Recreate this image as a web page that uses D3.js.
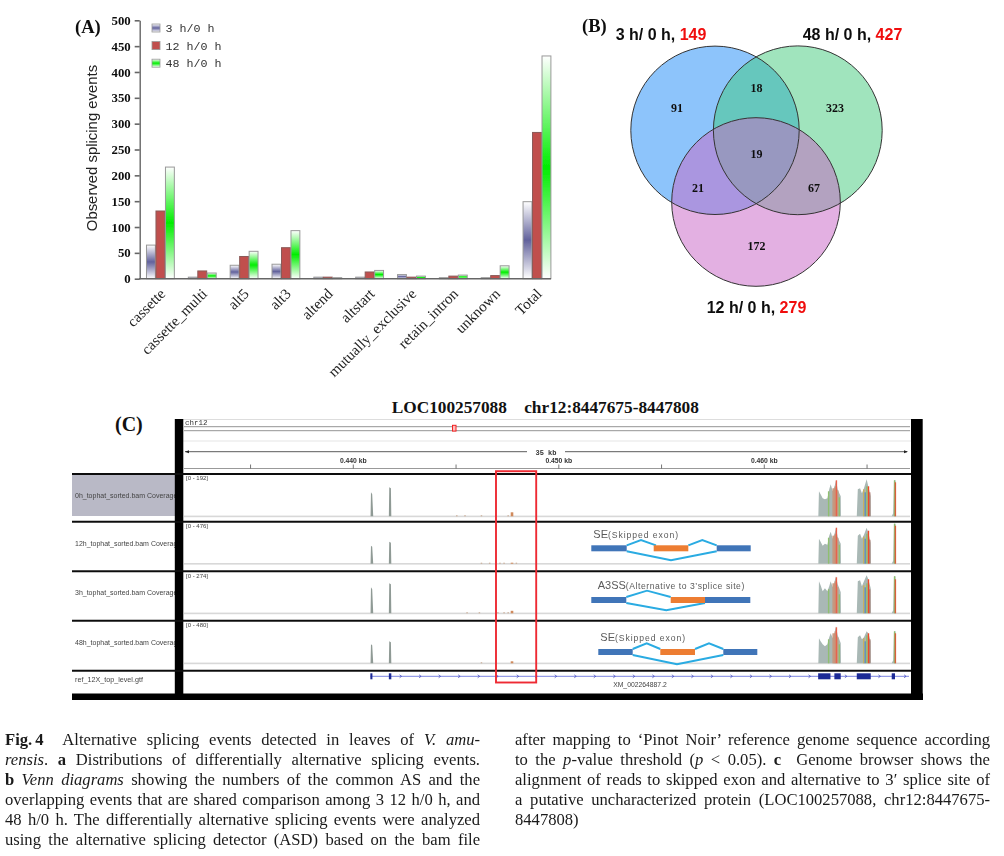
<!DOCTYPE html>
<html><head><meta charset="utf-8">
<script src="https://cdn.jsdelivr.net/npm/d3@7"></script>
<style>
html,body{margin:0;padding:0;background:#fff}
svg{display:block}
</style></head><body>
<svg id="fig" width="1004" height="856"></svg>
<script>
// ---------- Panel A data ----------
const categories = ["cassette","cassette_multi","alt5","alt3","altend","altstart","mutually_exclusive","retain_intron","unknown","Total"];
const series3h  = [65,3,26,28,3,3,8,2,2,149];
const series12h = [131,15,43,60,3,13,3,5,6,283];
const series48h = [216,11,53,93,2,16,5,7,25,431];
const legendLabels = ["3 h/0 h","12 h/0 h","48 h/0 h"];
const yTicks = [0,50,100,150,200,250,300,350,400,450,500];
// ---------- Panel B data ----------
const vennNames = ["3 h/ 0 h, ","48 h/ 0 h, ","12 h/ 0 h, "];
const vennTotals = [149,427,279];
const vennCounts = [91,18,323,19,21,67,172];
// ---------- Panel C data ----------
const trackNames = ["0h_tophat_sorted.bam Coverage","12h_tophat_sorted.bam Coverage","3h_tophat_sorted.bam Coverage","48h_tophat_sorted.bam Coverage"];
const trackRanges = ["[0 - 192]","[0 - 476]","[0 - 274]","[0 - 480]"];
const rulerKb = [435,440,445,450,455,460,465];
const rulerLabels = ["0.440 kb","0.450 kb","0.460 kb"];
const peakKb = [440.84,440.86,440.92,440.97,441.73,441.75,441.83,441.85];
const peakDepth = [[0,24,22,0,0,29,28,0],[0,18,17,0,0,22,21,0],[0,26,24,0,0,30,29,0],[0,19,18,0,0,22,21,0]];
const clusterKb = [462.63,462.66,462.74,462.84,462.95,463.07,463.16,463.23,463.33,463.42,463.49,463.57,463.65,463.72,463.73,
                   464.50,464.55,464.66,464.75,464.85,464.98,465.06,465.18,465.19,
                   466.20,466.27,466.31,466.38,466.41];
const clusterDepth = [
 [0,25,22,18,17,18,27,32,25,30,36,27,23,20,0, 0,27,28,23,28,37,30,20,0, 0,3,36,36,2],
 [0,25,22,18,20,19,28,32,25,30,36,27,23,20,0, 0,28,30,25,29,36,31,21,0, 0,3,40,40,3],
 [0,32,28,22,25,22,27,32,26,32,37,29,25,21,0, 0,32,33,27,32,38,34,25,0, 0,3,37,37,3],
 [0,25,22,19,17,19,26,30,25,31,37,28,24,20,0, 0,26,28,24,26,32,30,22,0, 0,3,32,32,3]];
const alleleKb   = [463.12,463.34,463.40,463.45,463.50,463.56,463.64, 464.83,464.90,464.98,465.06,465.12, 466.33,466.37];
const alleleCol  = ["#8fbf70","#c8967a","#c8967a","#c8967a","#e8604c","#c8967a","#8fbf70","#c9b060","#5f8fb8","#8fbf70","#ef4a28","#b07a70","#8fbf70","#d8603c"];
const alleleDepth = [
 [25,28,28,30,36,26,19, 27,24,30,30,24, 36,34],
 [26,28,28,30,36,26,19, 27,25,30,33,24, 40,38],
 [24,30,30,32,36,26,19, 28,26,30,34,24, 37,34],
 [24,30,30,32,36,26,19, 25,22,28,30,24, 32,30]];
const boxedExonDepth = [4,1,2.5,2];
const boxedExonKb = 447.66;
const minorKb = [[445,445.4,446.2,446.9,447.5],[446.2,446.6,447.1,447.3,447.9],[445.5,446.1,447,447.3,447.5],[446.2]];
const geneExons = [[440.83,440.93],[441.73,441.85],[462.62,463.22],[463.41,463.72],[464.50,465.18],[466.2,466.36]];
const geneArrowKb = [442.3,443.25,444.2,445.15,446.1,447.0,448.0,448.9,449.85,450.8,451.75,452.7,453.65,454.6,455.55,456.5,457.45,458.4,459.35,460.3,461.25,462.2,463.97,465.6,466.85];
const schemes = [
 {big:"SE",small:"(Skipped exon)"},
 {big:"A3SS",small:"(Alternative to 3’splice site)"},
 {big:"SE",small:"(Skipped exon)"}];
const schemeSpacing=[.95,.55,.95];
const schemeLeft = [[0,35.4],[0,35],[0,34.4]];
const schemeMid  = [[62.4,97],[79.4,113.7],[62,96.7]];
const schemeRight= [[125.4,159.4],[113.7,159],[125,159]];
// connector vertices in panel-relative units [x, rise]
const schemeLinks = [
 [[[35.4,0],[49.7,5.3],[64.7,0]],[[97,0],[111,5.3],[125.4,0]]],
 [[[35,0],[55.7,6.3],[79.4,0]]],
 [[[34.4,0],[48.4,5.7],[62,0]],[[96.7,0],[110.7,5.7],[125,0]]]];
const schemeSkips = [[[35.4,0],[79.7,9],[125.4,0]],[[35,0],[75,7.3],[113.7,0]],[[34.4,0],[78.7,9.3],[125,0]]];

const svg = d3.select("#fig");
const defs = svg.append("defs");
const SERIF = "'Liberation Serif',serif", SANS = "'Liberation Sans',sans-serif", MONO="'Liberation Mono',monospace";
function blur(id,s){defs.append("filter").attr("id",id).attr("x","-5%").attr("y","-5%").attr("width","110%").attr("height","110%")
  .append("feGaussianBlur").attr("stdDeviation",s);}
blur("soft",0.35); blur("softer",0.5);
function grad(id,c){const g=defs.append("linearGradient").attr("id",id).attr("x1",0).attr("x2",0).attr("y1",0).attr("y2",1);
  [[0,"#fff"],[.5,c],[1,"#fff"]].forEach(s=>g.append("stop").attr("offset",s[0]).attr("stop-color",s[1]));}
grad("g3","#62629c"); grad("g48","#00ee00");
const fills=["url(#g3)","#c0504d","url(#g48)"];

// ========== Panel A ==========
const A = svg.append("g").attr("filter","url(#soft)");
const y = d3.scaleLinear().domain([0,500]).range([278.7,20.3]);
const x = d3.scaleBand().domain(categories).range([139.3,557.7]).paddingInner(.32).paddingOuter(.16);
const sub = d3.scaleBand().domain([0,1,2]).range([0,x.bandwidth()]);
const allSeries=[series3h,series12h,series48h];
allSeries.forEach((vals,i)=>{
  A.append("g").selectAll("rect").data(vals).join("rect")
   .attr("x",(d,j)=>x(categories[j])+sub(i)+.5).attr("y",d=>y(d))
   .attr("width",sub.bandwidth()-.6).attr("height",d=>y(0)-y(d))
   .attr("fill",fills[i]).attr("stroke",i==1?"#8a5a58":"#999").attr("stroke-width",1);
});
const yAxis=A.append("g").attr("transform","translate(139.7,0)").call(d3.axisLeft(y).tickValues(yTicks).tickSize(5).tickSizeOuter(0));
yAxis.selectAll("path,line").attr("stroke","#666").attr("stroke-width",1.6);
yAxis.selectAll("text").attr("font-family",SERIF).attr("font-weight","bold").attr("font-size",12.8).attr("fill","#111").attr("dx",-1);
yAxis.select(".domain").attr("stroke-width",1.4);
A.append("line").attr("x1",139).attr("x2",x("Total")+x.bandwidth()).attr("y1",y(0)).attr("y2",y(0)).attr("stroke","#666").attr("stroke-width",1.5);
A.append("g").selectAll("text").data(categories).join("text")
 .attr("transform",d=>`translate(${x(d)+x.bandwidth()/2+6},${y(0)+16}) rotate(-45)`)
 .attr("text-anchor","end").attr("font-family",SERIF).attr("font-size",15).attr("fill","#222").text(d=>d);
A.append("text").attr("transform","translate(96.5,148) rotate(-90)").attr("text-anchor","middle")
 .attr("font-family",SANS).attr("font-size",14.9).attr("fill","#222").text("Observed splicing events");
legendLabels.forEach((l,i)=>{
  const ly=28+i*17.6;
  A.append("rect").attr("x",152).attr("y",ly-4).attr("width",8).attr("height",8).attr("fill",fills[i]).attr("stroke","#999").attr("stroke-width",.8);
  A.append("text").attr("x",165.5).attr("y",ly+4).attr("font-family",MONO).attr("font-size",11.7).attr("fill","#333").text(l);
});
A.append("text").attr("x",75).attr("y",33).attr("font-family",SERIF).attr("font-weight","bold").attr("font-size",18.5).attr("fill","#111").text("(A)");

// ========== Panel B ==========
const B = svg.append("g").attr("filter","url(#soft)");
const circles=[{cx:715,cy:130.3,r:84.2,c:"#8dc4fb"},{cx:797.8,cy:130.3,r:84.4,c:"#a0e4bd"},{cx:756,cy:202,r:84.3,c:"#e3b0e2"}];
circles.forEach((c,i)=>{
  defs.append("clipPath").attr("id","vc"+i).append("circle").attr("cx",c.cx).attr("cy",c.cy).attr("r",c.r);
});
defs.append("clipPath").attr("id","vc01").attr("clip-path","url(#vc0)").append("circle").attr("cx",circles[1].cx).attr("cy",circles[1].cy).attr("r",circles[1].r);
B.selectAll("circle.base").data(circles).join("circle").attr("class","base").attr("cx",d=>d.cx).attr("cy",d=>d.cy).attr("r",d=>d.r).attr("fill",d=>d.c);
function lens(target,clip,col,g=B){g.append("circle").attr("cx",circles[target].cx).attr("cy",circles[target].cy).attr("r",circles[target].r).attr("fill",col).attr("clip-path",`url(#${clip})`);}
lens(1,"vc0","#66c7bd");
lens(2,"vc0","#aa96e0");
lens(2,"vc1","#b3a2c0");
lens(2,"vc01","#9898c0");
B.selectAll("circle.edge").data(circles).join("circle").attr("class","edge").attr("cx",d=>d.cx).attr("cy",d=>d.cy).attr("r",d=>d.r).attr("fill","none").attr("stroke","#333").attr("stroke-width",1);
const vennPos=[[677,108],[756.5,88],[835,108],[756.5,154],[698,188],[814,188],[756.5,246]];
B.selectAll("text.cnt").data(vennCounts).join("text").attr("class","cnt")
 .attr("x",(d,i)=>vennPos[i][0]).attr("y",(d,i)=>vennPos[i][1]+4).attr("text-anchor","middle")
 .attr("font-family",SERIF).attr("font-weight","bold").attr("font-size",12).attr("fill","#111").text(d=>d);
const vennTitlePos=[[615.7,39.5],[802.7,39.5],[706.7,312.7]];
vennNames.forEach((n,i)=>{
  const t=B.append("text").attr("x",vennTitlePos[i][0]).attr("y",vennTitlePos[i][1]).attr("font-family",SANS).attr("font-weight","bold").attr("font-size",16).attr("fill","#111");
  t.append("tspan").text(n);
  t.append("tspan").attr("fill","#f01010").text(vennTotals[i]);
});
B.append("text").attr("x",582).attr("y",32).attr("font-family",SERIF).attr("font-weight","bold").attr("font-size",18.5).attr("fill","#111").text("(B)");

// ========== Panel C ==========
svg.append("text").attr("x",391.7).attr("y",412.5).attr("font-family",SERIF).attr("font-weight","bold").attr("font-size",17.3).attr("fill","#111").style("white-space","pre").text("LOC100257088    chr12:8447675-8447808");
svg.append("text").attr("x",115).attr("y",430.5).attr("font-family",SERIF).attr("font-weight","bold").attr("font-size",20).attr("fill","#111").text("(C)");
const C = svg.append("g").attr("filter","url(#softer)");
const gx = d3.scaleLinear().domain([440,460]).range([353.3,764.3]);
const trackTop=[475,523,572.5,622], base=[516.3,563.7,613.3,663.3], seps=[474,521.7,571.3,620.7,670.7];
const gd = d3.scaleLinear().domain([0,50]).range([0,50]);
// header
C.append("rect").attr("x",183).attr("y",419).attr("width",728).attr("height",1).attr("fill","#ddd");
C.append("rect").attr("x",183).attr("y",440.5).attr("width",728).attr("height",1).attr("fill","#e6e6e6");
[426.7,430.7].forEach(v=>C.append("line").attr("x1",184).attr("x2",910).attr("y1",v).attr("y2",v).attr("stroke","#777").attr("stroke-width",.8));
C.append("text").attr("x",185).attr("y",425).attr("font-family",MONO).attr("font-size",7.5).attr("fill","#333").text("chr12");
C.append("rect").attr("x",452.5).attr("y",425.3).attr("width",3.5).attr("height",5.8).attr("fill","#fbb").attr("stroke","#f02020").attr("stroke-width",1);
C.append("path").attr("d","M185,451.7H527M565,451.7H907").attr("stroke","#333").attr("stroke-width",.8).attr("fill","none");
C.append("path").attr("d","M185,451.7l4,-1.5v3z M908,451.7l-4,-1.5v3z").attr("fill","#222");
C.append("text").attr("x",546).attr("y",454.5).attr("text-anchor","middle").attr("font-family",MONO).attr("font-size",7).attr("font-weight","bold").attr("fill","#333").text("35 kb");
C.append("line").attr("x1",184).attr("x2",910).attr("y1",468.5).attr("y2",468.5).attr("stroke","#999").attr("stroke-width",1);
C.selectAll("line.rt").data(rulerKb).join("line").attr("class","rt").attr("x1",d=>gx(d)).attr("x2",d=>gx(d)).attr("y1",464.5).attr("y2",468.5).attr("stroke","#555").attr("stroke-width",.8);
C.selectAll("text.rl").data(rulerLabels).join("text").attr("class","rl").attr("x",(d,i)=>gx(440+i*10)).attr("y",463).attr("text-anchor","middle")
  .attr("font-family",SANS).attr("font-weight","bold").attr("font-size",6.8).attr("fill","#333").text(d=>d);
// left labels
defs.append("clipPath").attr("id","lab").append("rect").attr("x",72).attr("y",470).attr("width",103).attr("height",230);
C.append("rect").attr("x",72).attr("y",475).attr("width",103).attr("height",41).attr("fill","#b9b9c6");
const labelY=[498,545.5,595,644.5];
C.append("g").attr("clip-path","url(#lab)").selectAll("text").data(trackNames).join("text").attr("x",75).attr("y",(d,i)=>labelY[i])
  .attr("font-family",SANS).attr("font-size",7).attr("fill","#444").text(d=>d);
C.append("text").attr("x",75).attr("y",682).attr("font-family",SANS).attr("font-size",7.2).attr("fill","#444").text("ref_12X_top_level.gtf");
// tracks
const area=d3.area().x(d=>gx(d[0])).y1(d=>d[2]-gd(d[1])).y0(d=>d[2]).curve(d3.curveLinear);
trackNames.forEach((n,t)=>{
  C.append("rect").attr("x",184).attr("width",726).attr("y",base[t]-.7).attr("height",1.6).attr("fill","#d8d8d8");
  C.append("text").attr("x",186).attr("y",trackTop[t]+5).attr("font-family",SANS).attr("font-size",6).attr("fill","#444").text(trackRanges[t]);
  C.append("path").datum(peakKb.map((k,i)=>[k,peakDepth[t][i],base[t]])).attr("d",area).attr("fill","#8f9a95");
  C.append("path").datum(clusterKb.map((k,i)=>[k,clusterDepth[t][i],base[t]])).attr("d",area).attr("fill","#a9b8b5");
  C.selectAll(null).data(alleleKb).join("rect").attr("x",d=>gx(d)-.5).attr("width",1.4)
    .attr("y",(d,i)=>base[t]-gd(alleleDepth[t][i])).attr("height",(d,i)=>gd(alleleDepth[t][i])).attr("fill",(d,i)=>alleleCol[i]);
  C.append("rect").attr("x",gx(boxedExonKb)).attr("width",2.6).attr("y",base[t]-gd(boxedExonDepth[t])).attr("height",gd(boxedExonDepth[t])).attr("fill","#d08a5c");
  C.selectAll(null).data(minorKb[t]).join("rect").attr("x",d=>gx(d)).attr("width",1.5).attr("y",base[t]-1).attr("height",1).attr("fill","#c8a890");
});
// gene
C.append("line").attr("x1",gx(440.83)).attr("x2",909).attr("y1",676.3).attr("y2",676.3).attr("stroke","#5a62d8").attr("stroke-width",.8);
C.selectAll("rect.ex").data(geneExons).join("rect").attr("class","ex").attr("x",d=>gx(d[0])).attr("width",d=>gx(d[1])-gx(d[0])).attr("y",673.3).attr("height",6).attr("fill","#1f2a96");
C.selectAll("path.ga").data(geneArrowKb).join("path").attr("class","ga").attr("d",d=>`M${gx(d)-1},674.8l2,1.5l-2,1.5`).attr("fill","none").attr("stroke","#3a42b8").attr("stroke-width",.7);
C.append("text").attr("x",640).attr("y",687).attr("text-anchor","middle").attr("font-family",SANS).attr("font-size",6.8).attr("fill","#444").text("XM_002264887.2");
// black frame
[[174.8,419,8.5,280],[911,419,11.7,280],[72,693.5,851,6.5]].forEach(r=>C.append("rect").attr("x",r[0]).attr("y",r[1]).attr("width",r[2]).attr("height",r[3]).attr("fill","#000"));
seps.forEach((v,i)=>C.append("line").attr("x1",72).attr("x2",911).attr("y1",v).attr("y2",v).attr("stroke","#111").attr("stroke-width",1.9));
// schematics
const S = svg.append("g").attr("filter","url(#soft)");
const schemeX=[591.3,591.3,598.3], schemeTop=[545.3,597,649], schemeText=[[593.3,538],[597.7,589],[600.3,641.3]];
const sx=d3.scaleLinear().domain([0,100]).range([0,100]);
schemes.forEach((s,i)=>{
  const g=S.append("g").attr("transform",`translate(${schemeX[i]},${schemeTop[i]})`);
  const line=d3.line().x(d=>sx(d[0])).y(d=>-d[1]);
  schemeLinks[i].forEach(l=>g.append("path").attr("d",line(l)).attr("fill","none").attr("stroke","#29abe2").attr("stroke-width",1.9));
  g.append("path").attr("d",d3.line().x(d=>sx(d[0])).y(d=>6+d[1])(schemeSkips[i])).attr("fill","none").attr("stroke","#29abe2").attr("stroke-width",1.9);
  [schemeLeft[i],schemeRight[i]].forEach(e=>g.append("rect").attr("x",sx(e[0])).attr("width",sx(e[1])-sx(e[0])).attr("y",0).attr("height",6).attr("fill","#3f74b8"));
  g.append("rect").attr("x",sx(schemeMid[i][0])).attr("width",sx(schemeMid[i][1])-sx(schemeMid[i][0])).attr("y",0).attr("height",6).attr("fill","#ed7d31");
  const t=S.append("text").attr("x",schemeText[i][0]).attr("y",schemeText[i][1]).attr("font-family",SANS).attr("fill","#5a5a5a");
  t.append("tspan").attr("font-size",11).text(s.big);
  t.append("tspan").attr("font-size",8.6).attr("letter-spacing",schemeSpacing[i]).text(s.small);
});
// red highlight box
svg.append("rect").attr("x",496).attr("y",471.2).attr("width",40.2).attr("height",211.3).attr("fill","none").attr("stroke","#ee2a33").attr("stroke-width",1.9);

// ========== Caption ==========
const captionLeft=[
 [["f","Fig. 4"],["r","  Alternative splicing events detected in leaves of "],["i","V. amu-"]],
 [["i","rensis"],["r",". "],["b","a"],["r"," Distributions of differentially alternative splicing events."]],
 [["b","b"],["r"," "],["i","Venn diagrams"],["r"," showing the numbers of the common AS and the"]],
 [["r","overlapping events that are shared comparison among 3 12 h/0 h, and"]],
 [["r","48 h/0 h. The differentially alternative splicing events were analyzed"]],
 [["r","using the alternative splicing detector (ASD) based on the bam file"]]];
const captionRight=[
 [["r","after mapping to ‘Pinot Noir’ reference genome sequence according"]],
 [["r","to the "],["i","p"],["r","-value threshold ("],["i","p"],["r"," < 0.05). "],["b","c"],["r","  Genome browser shows the"]],
 [["r","alignment of reads to skipped exon and alternative to 3′ splice site of"]],
 [["r","a putative uncharacterized protein (LOC100257088, chr12:8447675-"]],
 [["r","8447808)"]]];
function caption(lines,x0,x1){
  lines.forEach((ln,i)=>{
    const t=svg.append("text").attr("x",x0).attr("y",745+i*20).attr("font-family",SERIF).attr("font-size",16.6).attr("fill","#1a1a1a").style("white-space","pre");
    ln.forEach(([k,s])=>{t.append("tspan").attr("font-weight",(k=="b"||k=="f")?"bold":null).attr("font-style",k=="i"?"italic":null).attr("word-spacing",k=="f"?"-1":null).text(s);});
    const full=ln.filter(d=>d[0]!="f").map(d=>d[1]).join(""), gaps=(full.match(/ /g)||[]).length;
    const w=t.node().getComputedTextLength();
    if(full.length>20&&gaps) t.attr("word-spacing",(x1-x0-w)/gaps);
  });
}
caption(captionLeft,5,480);
caption(captionRight,515,990);
</script>
</body></html>
